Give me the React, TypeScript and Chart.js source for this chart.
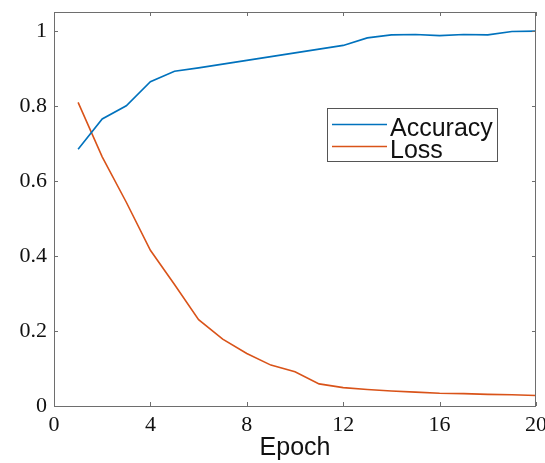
import React, { useEffect, useRef } from "react";
import { Chart, registerables } from "chart.js";

Chart.register(...registerables);

const epochs = [1, 2, 3, 4, 5, 6, 7, 8, 9, 10, 11, 12, 13, 14, 15, 16, 17, 18, 19, 20];
const accuracy = [0.684, 0.765, 0.8, 0.864, 0.892, 0.901, 0.911, 0.921, 0.931, 0.941, 0.951, 0.961, 0.981, 0.989, 0.99, 0.987, 0.99, 0.989, 0.998, 0.999];
const loss = [0.809, 0.664, 0.543, 0.415, 0.324, 0.23, 0.178, 0.14, 0.109, 0.091, 0.059, 0.049, 0.044, 0.04, 0.037, 0.034, 0.033, 0.031, 0.03, 0.028];
const seriesLabels = ["Accuracy", "Loss"];
const seriesColors = ["#0072BD", "#D95319"];
const xTicks = [0, 4, 8, 12, 16, 20];
const yTicks = [0, 0.2, 0.4, 0.6, 0.8, 1];
const xTitle = "Epoch";

const SERIF = "'Liberation Serif', 'Times New Roman', Times, serif";
const SANS = "'Liberation Sans', Arial, Helvetica, sans-serif";
const AXIS_COLOR = "#6e6e6e";
const TICK_LEN = 4;

const boxAndLegend = {
  id: "boxAndLegend",
  afterDraw(chart: any) {
    const { ctx, chartArea, scales } = chart;
    const { left, right, top, bottom } = chartArea;
    ctx.save();
    ctx.strokeStyle = AXIS_COLOR;
    ctx.lineWidth = 1;
    ctx.strokeRect(left + 0.5, top + 0.5, right - left - 1, bottom - top);
    ctx.beginPath();
    scales.x.ticks.forEach((t: any) => {
      const px = Math.round(scales.x.getPixelForValue(t.value)) + 0.5;
      ctx.moveTo(px, bottom);
      ctx.lineTo(px, bottom - TICK_LEN);
      ctx.moveTo(px, top);
      ctx.lineTo(px, top + TICK_LEN);
    });
    scales.y.ticks.forEach((t: any) => {
      const py = Math.round(scales.y.getPixelForValue(t.value)) + 0.5;
      ctx.moveTo(left, py);
      ctx.lineTo(left + TICK_LEN, py);
      ctx.moveTo(right, py);
      ctx.lineTo(right - TICK_LEN, py);
    });
    ctx.stroke();

    const lx = 327.5, ly = 108.5, lw = 170, lh = 53;
    ctx.fillStyle = "#ffffff";
    ctx.fillRect(lx, ly, lw, lh);
    ctx.strokeStyle = "#555555";
    ctx.strokeRect(lx, ly, lw, lh);
    const rows = [
      { lineY: 124.5, baseY: 135.5 },
      { lineY: 146.5, baseY: 158 },
    ];
    chart.data.datasets.forEach((ds: any, i: number) => {
      const r = rows[i];
      ctx.strokeStyle = ds.borderColor;
      ctx.lineWidth = 1.5;
      ctx.beginPath();
      ctx.moveTo(332, r.lineY);
      ctx.lineTo(387, r.lineY);
      ctx.stroke();
      ctx.fillStyle = "#111111";
      ctx.font = "25px " + SANS;
      ctx.textAlign = "left";
      ctx.textBaseline = "alphabetic";
      ctx.fillText(ds.label, 390, r.baseY);
    });
    ctx.restore();
  },
};

export default function App() {
  const ref = useRef<HTMLCanvasElement | null>(null);
  useEffect(() => {
    if (!ref.current) return;
    const chart = new Chart(ref.current, {
      type: "line",
      data: {
        datasets: [
          {
            label: seriesLabels[0],
            data: epochs.map((e, i) => ({ x: e, y: accuracy[i] })),
            borderColor: seriesColors[0],
            backgroundColor: seriesColors[0],
            borderWidth: 1.6,
            pointRadius: 0,
            tension: 0,
          },
          {
            label: seriesLabels[1],
            data: epochs.map((e, i) => ({ x: e, y: loss[i] })),
            borderColor: seriesColors[1],
            backgroundColor: seriesColors[1],
            borderWidth: 1.6,
            pointRadius: 0,
            tension: 0,
          },
        ],
      },
      options: {
        animation: false,
        responsive: false,
        devicePixelRatio: 1,
        layout: { padding: { top: 12, right: 9, left: 0, bottom: 0 } },
        plugins: { legend: { display: false }, tooltip: { enabled: false } },
        scales: {
          x: {
            type: "linear",
            min: 0,
            max: 20,
            grid: { display: false, drawTicks: false },
            border: { display: false },
            afterBuildTicks: (s: any) => {
              s.ticks = xTicks.map((v) => ({ value: v }));
            },
            afterFit: (s: any) => {
              s.height = 57;
              s.paddingLeft = 0;
              s.paddingRight = 0;
            },
            ticks: {
              autoSkip: false,
              maxRotation: 0,
              padding: 6,
              color: "#111",
              font: { family: SERIF, size: 22 },
              callback: (v: any) => String(v),
            },
            title: {
              display: true,
              text: xTitle,
              color: "#111",
              font: { family: SANS, size: 25 },
              padding: { top: 0, bottom: 0 },
            },
          },
          y: {
            type: "linear",
            min: 0,
            max: 1.05,
            grid: { display: false, drawTicks: false },
            border: { display: false },
            afterBuildTicks: (s: any) => {
              s.ticks = yTicks.map((v) => ({ value: v }));
            },
            afterFit: (s: any) => {
              s.width = 54;
              s.paddingTop = 0;
              s.paddingBottom = 0;
            },
            ticks: {
              autoSkip: false,
              padding: 7,
              color: "#111",
              font: { family: SERIF, size: 22 },
              callback: (v: any) => String(Number(Number(v).toFixed(2))),
            },
          },
        },
      },
      plugins: [boxAndLegend],
    });
    return () => chart.destroy();
  }, []);
  return (
    <div style={{ position: "absolute", left: 0, top: 0, width: 545, height: 463, background: "#fff" }}>
      <canvas ref={ref} width={545} height={463} style={{ display: "block", width: 545, height: 463 }} />
    </div>
  );
}
